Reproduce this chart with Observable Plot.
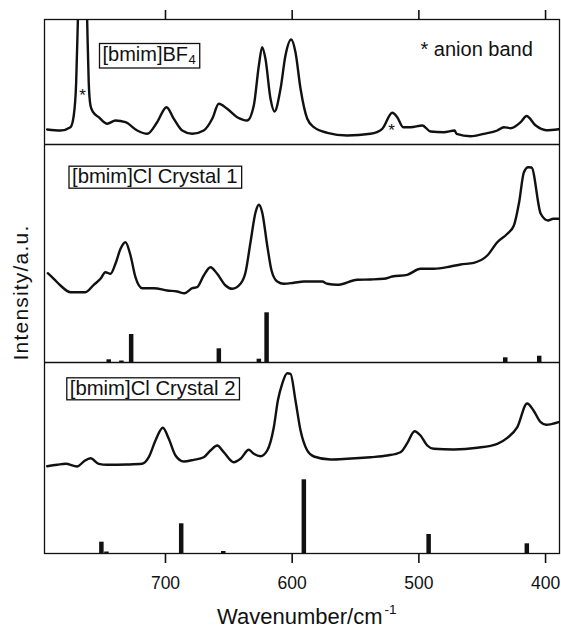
<!DOCTYPE html>
<html>
<head>
<meta charset="utf-8">
<script src="https://cdn.jsdelivr.net/npm/d3@7"></script>
<script src="https://cdn.jsdelivr.net/npm/@observablehq/plot@0.6"></script>
<style>
  body { margin: 0; background: #fff; }
  #chart { width: 561px; height: 627px; }
</style>
</head>
<body>
<div id="chart"></div>
<script>
// ---------------- data ----------------
const xTicks = [700, 600, 500, 400];

// [bmim]BF4 spectrum
const bf4Wavenumber = [793.4, 782.9, 775.0, 772.4, 770.5, 769.2, 765.5, 761.8, 760.6, 759.2, 757.1, 752.7, 746.0, 739.5, 731.6, 722.3, 714.4, 706.6, 699.2, 693.4, 686.8, 678.9, 669.8, 663.1, 657.9, 651.3, 643.4, 635.5, 630.3, 626.3, 623.7, 621.1, 617.1, 614.0, 609.2, 605.3, 600.8, 597.4, 593.4, 588.1, 582.9, 572.3, 556.6, 538.2, 528.9, 521.0, 517.1, 512.4, 506.6, 497.3, 490.8, 480.3, 471.8, 470.3, 459.2, 448.7, 438.1, 432.9, 427.6, 419.7, 415.0, 408.0, 399.5, 389.7];
const bf4Intensity = [15, 14, 17.3, 29, 62.3, 122.3, 330, 122.3, 62.3, 39, 32.3, 27.3, 20.7, 24, 22.3, 14, 10.7, 22.3, 37.3, 25.7, 14, 10.7, 14, 25.7, 40.7, 35.7, 27.3, 24, 39, 79, 97.3, 85.7, 45.7, 33, 55.7, 89, 105, 92.3, 55.7, 25.7, 17.3, 11.7, 9, 10.7, 15.7, 31.7, 27.3, 17.3, 17.3, 19, 13, 12.3, 14, 10.7, 8.3, 10.7, 14, 17.3, 16.3, 22.3, 28.5, 19.2, 14.3, 15.3];

// [bmim]Cl Crystal 1 spectrum
const c1Wavenumber = [792.9, 788.2, 782.9, 775.0, 763.2, 756.6, 751.3, 747.4, 743.4, 739.5, 735.5, 731.6, 727.6, 723.7, 718.4, 709.2, 698.7, 690.8, 685.0, 678.9, 675.0, 669.8, 664.5, 659.2, 652.6, 647.3, 640.8, 636.8, 632.9, 628.9, 626.3, 623.7, 619.7, 616.3, 611.8, 606.6, 598.7, 590.8, 576.3, 572.3, 564.4, 548.7, 538.2, 527.7, 521.0, 509.2, 498.7, 488.2, 475.0, 467.1, 456.6, 446.0, 438.1, 430.2, 425.0, 420.9, 417.1, 413.7, 411.1, 403.8, 398.1, 393.9, 389.7];
const c1Intensity = [89.3, 83.7, 77, 70.3, 70.3, 77.7, 83.7, 90.3, 88.7, 98.7, 113.7, 120.3, 107, 85.3, 74.3, 74.3, 72, 71, 69.3, 74.3, 75.3, 87, 95.3, 88.7, 77, 73.7, 78.7, 90.3, 120.3, 150.3, 157.7, 150.3, 117, 92, 81, 78.7, 79.7, 81, 81, 78.7, 77.7, 82.7, 83, 83.7, 86, 87.7, 93.7, 93.7, 96, 98, 99.7, 107, 120.3, 128.7, 137, 160, 190.3, 195.3, 195, 148.7, 142, 143.7, 143.7];
// Crystal 1 calculated sticks
const c1StickWavenumber = [744.8, 734.8, 727.1, 657.9, 626.3, 620.2, 431.8, 405.0];
const c1StickHeight = [2.7, 1.5, 28, 13.7, 3.3, 49.7, 4.7, 6.3];

// [bmim]Cl Crystal 2 spectrum
const c2Wavenumber = [793.4, 785.5, 778.9, 769.7, 764.5, 759.2, 752.7, 746.0, 730.2, 718.4, 713.2, 707.9, 702.1, 697.4, 692.1, 685.6, 677.7, 669.8, 664.5, 659.2, 654.0, 646.1, 640.8, 634.2, 630.3, 625.0, 619.7, 614.5, 611.3, 607.9, 603.9, 601.3, 597.4, 593.4, 588.1, 582.9, 569.7, 556.6, 538.2, 525.0, 514.5, 509.2, 503.4, 498.7, 493.4, 488.2, 472.4, 453.9, 438.1, 430.2, 422.3, 414.6, 409.5, 403.9, 399.5, 389.7];
const c2Intensity = [87.3, 88.7, 89.7, 87, 92, 95.3, 89.7, 88.7, 89, 89.7, 96.3, 113, 125.7, 114.7, 98, 92, 93.7, 96.3, 103, 108, 101.3, 91.3, 94.7, 103.7, 99.7, 97.3, 103, 126.3, 153, 169.7, 180.3, 179.7, 153, 123, 103, 97, 94, 94.7, 96.3, 98, 101.3, 110.3, 122.3, 118, 108, 104.7, 104, 105.7, 109.7, 115.7, 126.3, 150, 143, 131.3, 128.7, 131.3];
// Crystal 2 calculated sticks
const c2StickWavenumber = [750.6, 746.6, 687.6, 654.4, 590.8, 492.3, 414.8];
const c2StickHeight = [11.3, 1.5, 29.7, 2, 73.7, 19, 9.7];

// anion band markers in the BF4 spectrum
const anionMarkWavenumber = [765.5, 521.5];
const anionMarkLevel = [44, 9];

// ---------------- layout ----------------
const panelHeights = {bf4: 125, c1: 218, c2: 191};     // stacked panel heights (same units as y)
const base = {c2: 0, c1: panelHeights.c2, bf4: panelHeights.c2 + panelHeights.c1};
const yTotal = panelHeights.c2 + panelHeights.c1 + panelHeights.bf4;
const font = "'Liberation Sans', Arial, sans-serif";
const ink = "#111";

const series = [
  {key: "bf4", wn: bf4Wavenumber, I: bf4Intensity},
  {key: "c1", wn: c1Wavenumber, I: c1Intensity},
  {key: "c2", wn: c2Wavenumber, I: c2Intensity}
];
const lineData = series.flatMap(s => s.wn.map((w, i) => ({series: s.key, wn: w, y: base[s.key] + s.I[i]})));
const stickData = [
  ...c1StickWavenumber.map((w, i) => ({wn: w, y1: base.c1, y2: base.c1 + c1StickHeight[i]})),
  ...c2StickWavenumber.map((w, i) => ({wn: w, y1: base.c2, y2: base.c2 + c2StickHeight[i]}))
];
const markData = anionMarkWavenumber.map((w, i) => ({wn: w, y: base.bf4 + anionMarkLevel[i]}));

const chart = Plot.plot({
  width: 561,
  height: 627,
  marginTop: 19,
  marginBottom: 74,
  marginLeft: 44,
  marginRight: 2,
  style: {fontFamily: font, fontSize: "17px", color: ink, background: "white", overflow: "visible"},
  x: {domain: [795.5, 389], axis: null},
  y: {domain: [0, yTotal], axis: null},
  marks: [
    Plot.line(lineData, {x: "wn", y: "y", z: "series", stroke: ink, strokeWidth: 2.4, curve: "monotone-x", clip: true}),
    Plot.ruleX(stickData, {x: "wn", y1: "y1", y2: "y2", stroke: ink, strokeWidth: 4.5}),
    Plot.ruleY([base.c1, base.bf4], {stroke: ink, strokeWidth: 1.3}),
    Plot.frame({stroke: ink, strokeWidth: 1.3}),
    Plot.axisX({anchor: "top", ticks: xTicks, tickSize: 10, tickFormat: () => "", label: null, stroke: ink, strokeWidth: 1.6}),
    Plot.axisX({anchor: "bottom", ticks: xTicks, tickSize: 10, tickPadding: 13, label: null, stroke: ink, strokeWidth: 1.6, fontSize: 17.5, fill: ink}),
    Plot.text(markData, {x: "wn", y: "y", text: () => "*", fontSize: 17, lineAnchor: "bottom", fill: ink}),
    // panel labels
    Plot.text(["[bmim]BF"], {frameAnchor: "top-left", dx: 58, dy: 41, textAnchor: "start", lineAnchor: "bottom", fontSize: 20, fill: ink}),
    Plot.text(["4"], {frameAnchor: "top-left", dx: 144, dy: 44.5, textAnchor: "start", lineAnchor: "bottom", fontSize: 13, fill: ink}),
    Plot.text(["[bmim]Cl Crystal 1"], {frameAnchor: "top-left", dx: 27.5, dy: 163.7, textAnchor: "start", lineAnchor: "bottom", fontSize: 20.3, fill: ink}),
    Plot.text(["[bmim]Cl Crystal 2"], {frameAnchor: "top-left", dx: 25.3, dy: 375.3, textAnchor: "start", lineAnchor: "bottom", fontSize: 20.3, fill: ink}),
    Plot.text(["* anion band"], {frameAnchor: "top-left", dx: 376, dy: 36, textAnchor: "start", lineAnchor: "bottom", fontSize: 20, fill: ink}),
    // axis titles
    Plot.text(["Intensity/a.u."], {frameAnchor: "left", dx: -23, dy: 6, rotate: -90, textAnchor: "middle", lineAnchor: "middle", fontSize: 21, fill: ink}),
    Plot.text(["Wavenumber/cm"], {frameAnchor: "bottom-left", dx: 338, dy: 70, textAnchor: "end", lineAnchor: "bottom", fontSize: 22, fill: ink}),
    Plot.text(["-1"], {frameAnchor: "bottom-left", dx: 340, dy: 60, textAnchor: "start", lineAnchor: "bottom", fontSize: 13.5, fill: ink})
  ]
});

document.getElementById("chart").append(chart);

// slightly wider tracking on the rotated y title, as in the scan
(function adjustYTitle() {
  const t = Array.from(chart.querySelectorAll("text")).find(e => e.textContent === "Intensity/a.u.");
  if (t) t.setAttribute("letter-spacing", "1.2");
})();

// boxes around the panel labels
(function drawBoxes() {
  const svgRect = chart.getBoundingClientRect();
  const texts = Array.from(chart.querySelectorAll("text"));
  const groups = [["[bmim]BF", "4"], ["[bmim]Cl Crystal 1"], ["[bmim]Cl Crystal 2"]];
  for (const grp of groups) {
    let x0 = Infinity, y0 = Infinity, x1 = -Infinity, y1 = -Infinity;
    for (const label of grp) {
      const t = texts.find(e => e.textContent === label);
      if (!t) continue;
      const r = t.getBoundingClientRect();
      x0 = Math.min(x0, r.left - svgRect.left); y0 = Math.min(y0, r.top - svgRect.top);
      x1 = Math.max(x1, r.right - svgRect.left); y1 = Math.max(y1, r.bottom - svgRect.top);
    }
    if (!isFinite(x0)) continue;
    const rect = document.createElementNS("http://www.w3.org/2000/svg", "rect");
    rect.setAttribute("x", x0 - 3);
    rect.setAttribute("y", y0 + 1);
    rect.setAttribute("width", x1 - x0 + 7);
    rect.setAttribute("height", y1 - y0);
    rect.setAttribute("fill", "none");
    rect.setAttribute("stroke", ink);
    rect.setAttribute("stroke-width", 1.3);
    chart.append(rect);
  }
})();
</script>
</body>
</html>
